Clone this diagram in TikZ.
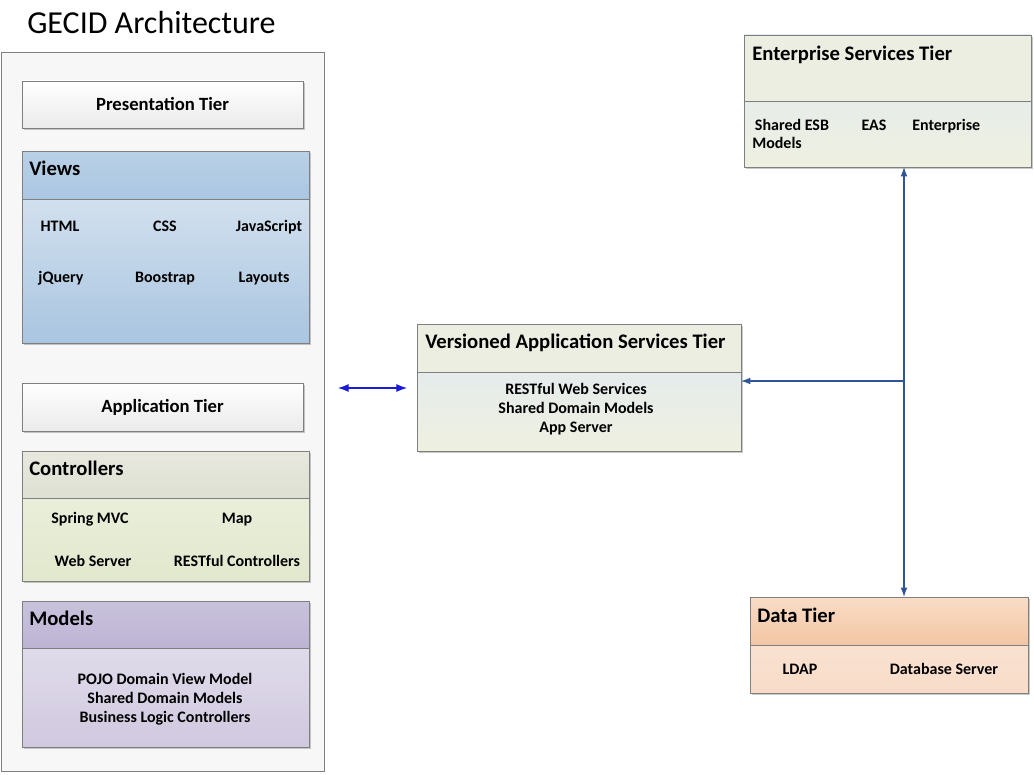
\documentclass[tikz,border=0pt]{standalone}
\usepackage{fontspec}
\setmainfont{Carlito}
\usetikzlibrary{arrows.meta,shadows}
\definecolor{brd}{HTML}{7F7F7F}
\definecolor{conn}{HTML}{2F5597}
\definecolor{dbl}{HTML}{1A1AD8}
\definecolor{vbT}{HTML}{DFE9F3}\definecolor{vbB}{HTML}{A9C5E0}
\definecolor{vhT}{HTML}{B9D1E7}\definecolor{vhB}{HTML}{AAC6E1}
\definecolor{cbT}{HTML}{EEF2E2}\definecolor{cbB}{HTML}{E2E8CD}
\definecolor{chT}{HTML}{E8E8DF}\definecolor{chB}{HTML}{DEE0D2}
\definecolor{mbT}{HTML}{E8E5F0}\definecolor{mbB}{HTML}{D0C8DF}
\definecolor{mhT}{HTML}{C9C2DC}\definecolor{mhB}{HTML}{BDB4D4}
\definecolor{sbT}{HTML}{E0E9F3}\definecolor{sbB}{HTML}{EEF0E0}
\definecolor{sh}{HTML}{EDEEE2}
\definecolor{dbT}{HTML}{FBE7DA}\definecolor{dbB}{HTML}{F8DCC8}
\definecolor{dhT}{HTML}{F9DCC6}\definecolor{dhB}{HTML}{F3C6A4}
\tikzset{
  px/.style={x=0.75pt,y=-0.75pt},
  rbox/.style={rectangle, draw=brd, line width=0.6pt, inner sep=0pt, outer sep=0pt, anchor=north west},
  shad/.style={drop shadow={shadow xshift=1.2pt, shadow yshift=-1.2pt, opacity=0.35, fill=black!60}},
  tierbox/.style={rbox, shad, top color=white, bottom color=black!8},
  hdrtxt/.style={font=\bfseries\fontsize{15.5}{18}\selectfont, anchor=west, inner sep=0pt, text height=1.55ex, text depth=0.45ex, yshift=-3.2pt},
  tiertxt/.style={font=\bfseries\fontsize{14}{16}\selectfont, inner sep=0pt},
  itemtxt/.style={font=\bfseries\fontsize{12}{14.25}\selectfont, inner sep=0pt, align=center},
  single/.style={text height=1.55ex, text depth=0.45ex, yshift=-1.5pt},
  connline/.style={draw=conn, line width=0.8pt, -{Latex[length=7pt,width=5pt]}},
}
\newcommand\rb[6]{\node[#6, minimum width=#4*0.75pt, minimum height=#5*0.75pt] (#1) at (#2,#3) {};}
\begin{document}
\begin{tikzpicture}[px]
\path[fill=white,use as bounding box] (0,0) rectangle (1034,774);
% title
\node[anchor=west, inner sep=0pt, font=\fontsize{24}{28}\selectfont] (title) at (27,23) {GECID Architecture};
% outer container
\rb{outer}{1}{52}{323}{719}{rbox, fill=black!3}
% presentation tier
\rb{pres}{22}{81}{281}{47}{tierbox}
\node[tiertxt] (prestxt) at (pres.center) {Presentation Tier};
% views
\rb{viewsbody}{22}{151}{287}{192}{rbox, shad, top color=vbT, bottom color=vbB}
\rb{viewsh}{22}{151}{287}{48}{rbox, top color=vhT, bottom color=vhB}
\node[hdrtxt] (viewst) at (29,168) {Views};
\node[itemtxt, single] (html) at (60,226) {HTML};
\node[itemtxt, single] (css) at (165,226) {CSS};
\node[itemtxt, single] (js) at (269,226) {JavaScript};
\node[itemtxt, single] (jq) at (61,277) {jQuery};
\node[itemtxt, single] (bs) at (165,277) {Boostrap};
\node[itemtxt, single] (lay) at (264,277) {Layouts};
% application tier
\rb{app}{22}{383}{281}{48}{tierbox}
\node[tiertxt] (apptxt) at (app.center) {Application Tier};
% controllers
\rb{ctrlbody}{22}{451}{287}{130}{rbox, shad, top color=cbT, bottom color=cbB}
\rb{ctrlh}{22}{451}{287}{47}{rbox, top color=chT, bottom color=chB}
\node[hdrtxt] (ctrlt) at (29,468) {Controllers};
\node[itemtxt, single] (spring) at (90,518) {Spring MVC};
\node[itemtxt, single] (map) at (237,518) {Map};
\node[itemtxt, single] (web) at (93,561) {Web Server};
\node[itemtxt, single] (restc) at (237,561) {RESTful Controllers};
% models
\rb{modbody}{22}{601}{287}{146}{rbox, shad, top color=mbT, bottom color=mbB}
\rb{modh}{22}{601}{287}{47}{rbox, top color=mhT, bottom color=mhB}
\node[hdrtxt] (modt) at (29,618) {Models};
\node[itemtxt] (modi) at (165,699) {POJO Domain View Model\\Shared Domain Models\\Business Logic Controllers};
% versioned application services tier
\rb{vers}{417}{324}{324}{127}{rbox, shad, top color=sbT, bottom color=sbB}
\rb{versh}{417}{324}{324}{48}{rbox, fill=sh}
\node[hdrtxt] (verst) at (425,341) {Versioned Application Services Tier};
\node[itemtxt] (versi) at (576,409) {RESTful Web Services\\Shared Domain Models\\App Server};
% enterprise services tier
\rb{ent}{744}{35}{287}{132}{rbox, shad, top color=sbT, bottom color=sbB}
\rb{enth}{744}{35}{287}{66}{rbox, fill=sh}
\node[hdrtxt] (entt) at (752,53) {Enterprise Services Tier};
\node[itemtxt, anchor=west, align=left, font=\bfseries\fontsize{12}{13.5}\selectfont] (esb) at (752,134) {\hspace{2pt}Shared ESB\\Models};
\node[itemtxt, single] (eas) at (874,125) {EAS};
\node[itemtxt, single, anchor=west] (entp) at (912,125) {Enterprise};
% data tier
\rb{data}{750}{597}{278}{96}{rbox, shad, top color=dbT, bottom color=dbB}
\rb{datah}{750}{597}{278}{48}{rbox, top color=dhT, bottom color=dhB}
\node[hdrtxt] (datat) at (757,615) {Data Tier};
\node[itemtxt, single] (ldap) at (800,669) {LDAP};
\node[itemtxt, single] (dbs) at (944,669) {Database Server};
% connectors
\coordinate (dA) at (338,388);
\coordinate (dB) at (407,388);
\draw[draw=dbl, line width=0.8pt, {Latex[length=8pt,width=6pt]}-{Latex[length=8pt,width=6pt]}] (dA) -- (dB);
\coordinate (j) at (904,381);
\draw[connline] (j) -- (ent.south -| j);
\draw[connline] (j) -- (vers.east |- j);
\draw[connline] (j) -- (j |- data.north);
\end{tikzpicture}
\end{document}
